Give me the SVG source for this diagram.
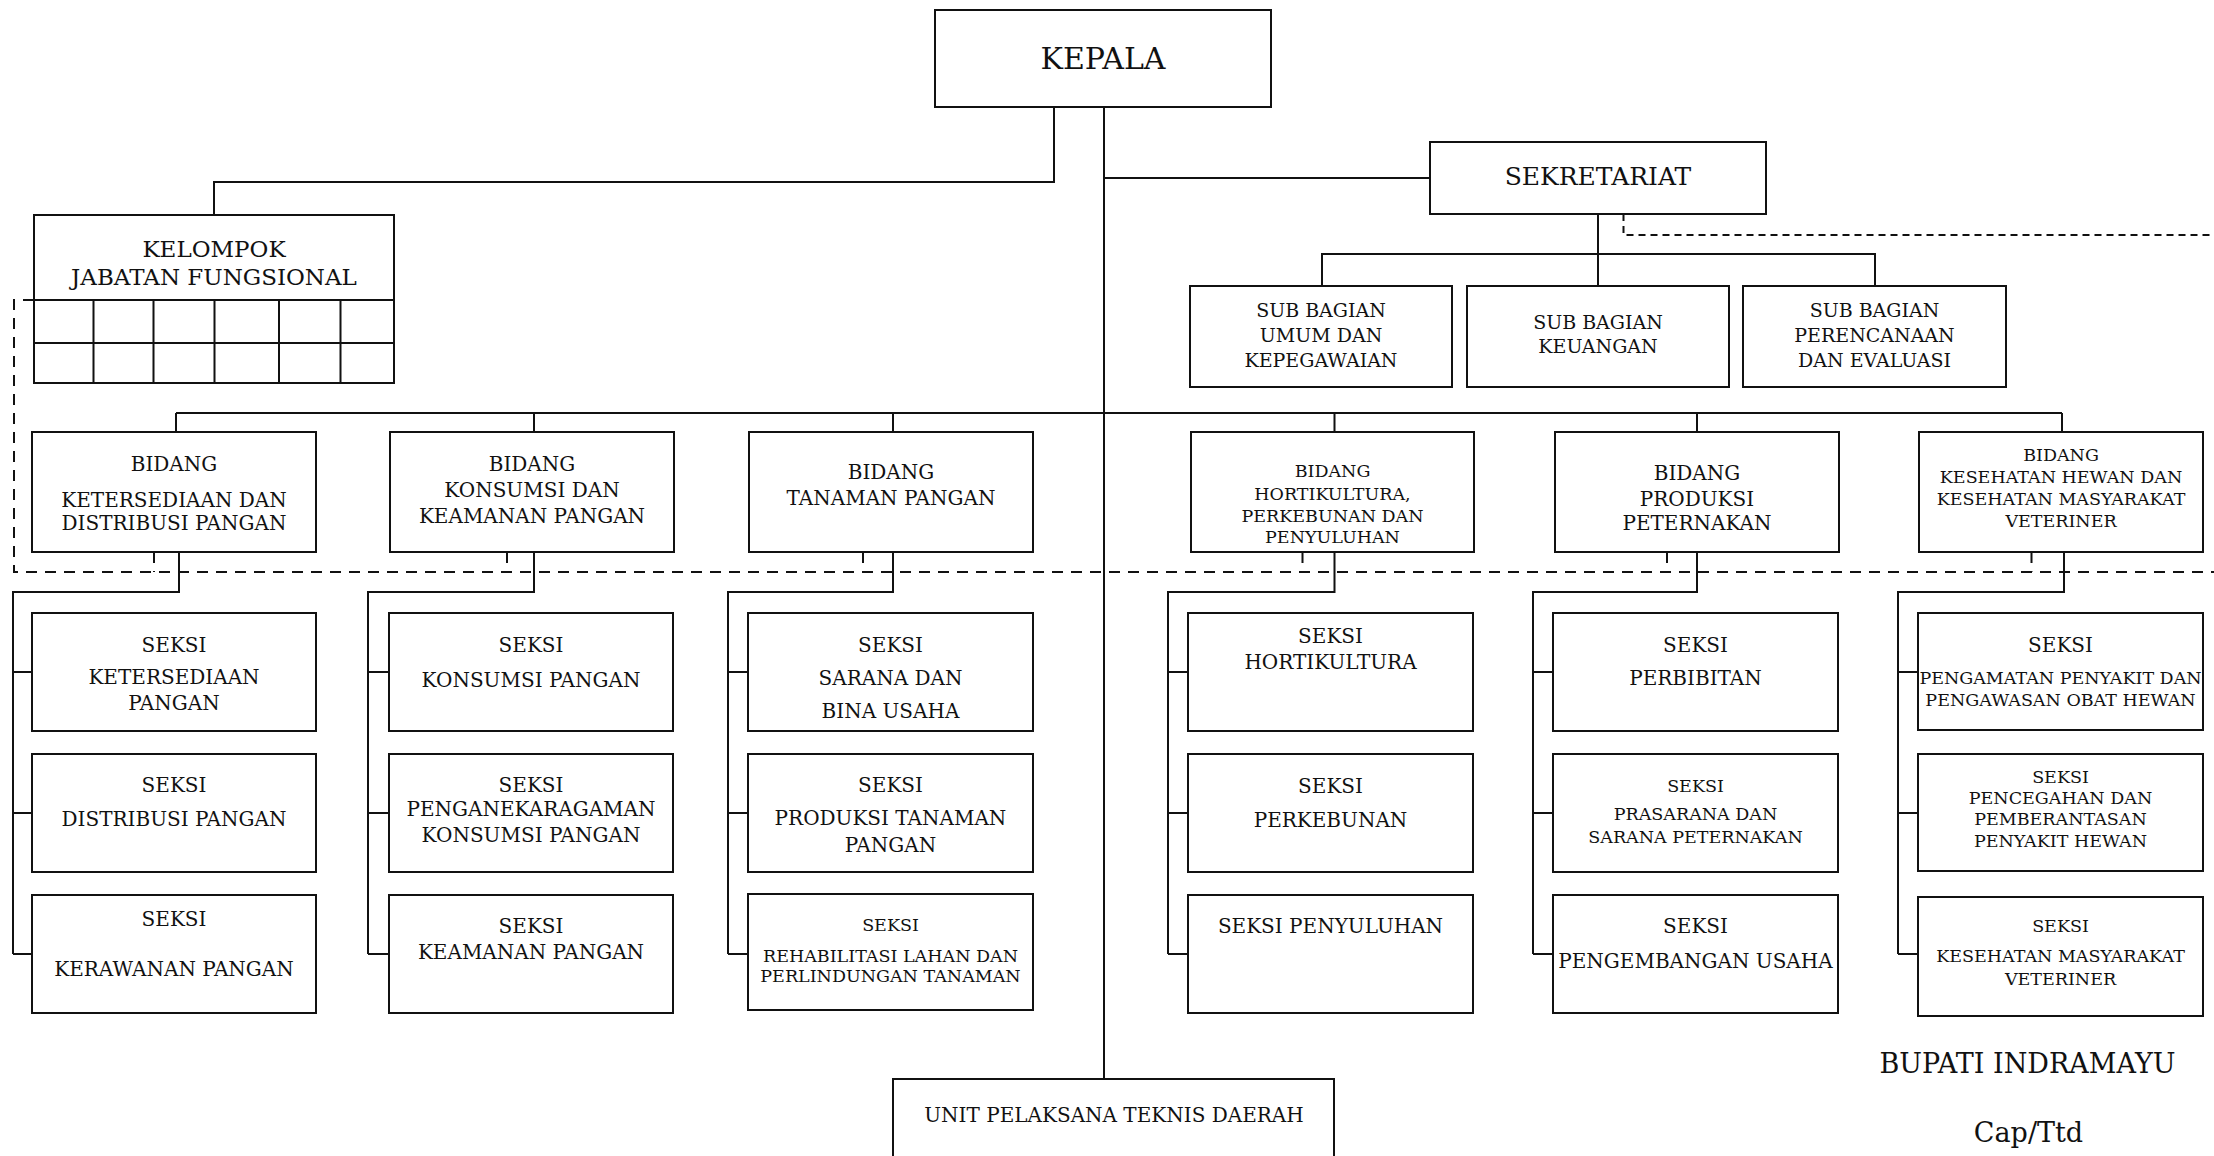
<svg xmlns="http://www.w3.org/2000/svg" width="2214" height="1156" viewBox="0 0 2214 1156">
<style>
text{font-family:"DejaVu Serif","Liberation Serif",serif;fill:#111;text-anchor:middle}
.box{fill:#fff;stroke:#111;stroke-width:2}
.ln{fill:none;stroke:#111;stroke-width:2}
.ds{fill:none;stroke:#111;stroke-width:2;stroke-dasharray:11 8}
.ds2{fill:none;stroke:#111;stroke-width:2;stroke-dasharray:7 5}
.t20{font-size:20px}
.t17{font-size:17.5px}
.t19{font-size:19px}
</style>
<rect width="2214" height="1156" fill="#fff"/>
<g id="connectors">
<path class="ln" d="M1054 107V182H214V215"/>
<path class="ln" d="M1104 107V1079"/>
<path class="ln" d="M1104 178H1430"/>
<path class="ln" d="M1598 214V286M1322 286V254H1875V286"/>
<path class="ln" d="M176 413H2062M176 413V432M534 413V432M893 413V432M1334.5 413V432M1697 413V432M2062 413V432"/>
<path class="ln" d="M179 552V592H13V954M13 672H32M13 813H32M13 954H32"/>
<path class="ln" d="M534 552V592H368V954M368 672H389M368 813H389M368 954H389"/>
<path class="ln" d="M893 552V592H728V954M728 672H748M728 813H748M728 954H748"/>
<path class="ln" d="M1334.5 552V592H1168V954M1168 672H1188M1168 813H1188M1168 954H1188"/>
<path class="ln" d="M1697 552V592H1533V954M1533 672H1553M1533 813H1553M1533 954H1553"/>
<path class="ln" d="M2064 552V592H1898V954M1898 672H1918M1898 813H1918M1898 954H1918"/>
<path class="ds" d="M34 300H14V572H2214"/>
<path class="ds" d="M154 552V572M507 552V572M863 552V572M1302.5 552V572M1667 552V572M2031.5 552V572"/>
<path class="ds2" d="M1623.5 214V235H2214"/>
</g>
<g id="kepala"><rect class="box" x="935" y="10" width="336" height="97"/><text x="1103" y="69" style="font-size:30px">KEPALA</text></g>
<g id="sekretariat"><rect class="box" x="1430" y="142" width="336" height="72"/><text x="1598" y="185" style="font-size:25px">SEKRETARIAT</text></g>
<g id="kjf"><rect class="box" x="34" y="215" width="360" height="168"/>
<path class="ln" d="M34 300H394M34 343H394M93.5 300V383M153.5 300V383M214.5 300V383M279 300V383M340.5 300V383"/>
<text x="214" y="257" style="font-size:23px">KELOMPOK</text><text x="214" y="285" style="font-size:23px">JABATAN FUNGSIONAL</text></g>
<g id="subbag-umum"><rect class="box" x="1190" y="286" width="262" height="101"/><text class="t19" x="1321" y="317">SUB BAGIAN</text><text class="t19" x="1321" y="342">UMUM DAN</text><text class="t19" x="1321" y="367">KEPEGAWAIAN</text></g>
<g id="subbag-keuangan"><rect class="box" x="1467" y="286" width="262" height="101"/><text class="t19" x="1598" y="329">SUB BAGIAN</text><text class="t19" x="1598" y="353">KEUANGAN</text></g>
<g id="subbag-perencanaan"><rect class="box" x="1743" y="286" width="263" height="101"/><text class="t19" x="1874.5" y="317">SUB BAGIAN</text><text class="t19" x="1874.5" y="342">PERENCANAAN</text><text class="t19" x="1874.5" y="367">DAN EVALUASI</text></g>

<g id="bidang-1"><rect class="box" x="32" y="432" width="284" height="120"/><text class="t20" x="174" y="471">BIDANG</text><text class="t20" x="174" y="507">KETERSEDIAAN DAN</text><text class="t20" x="174" y="530">DISTRIBUSI PANGAN</text></g>
<g id="bidang-2"><rect class="box" x="390" y="432" width="284" height="120"/><text class="t20" x="532" y="471">BIDANG</text><text class="t20" x="532" y="497">KONSUMSI DAN</text><text class="t20" x="532" y="523">KEAMANAN PANGAN</text></g>
<g id="bidang-3"><rect class="box" x="749" y="432" width="284" height="120"/><text class="t20" x="891" y="479">BIDANG</text><text class="t20" x="891" y="505">TANAMAN PANGAN</text></g>
<g id="bidang-4"><rect class="box" x="1191" y="432" width="283" height="120"/><text class="t17" x="1332.5" y="477">BIDANG</text><text class="t17" x="1332.5" y="500">HORTIKULTURA,</text><text class="t17" x="1332.5" y="522">PERKEBUNAN DAN</text><text class="t17" x="1332.5" y="543">PENYULUHAN</text></g>
<g id="bidang-5"><rect class="box" x="1555" y="432" width="284" height="120"/><text class="t20" x="1697" y="480">BIDANG</text><text class="t20" x="1697" y="506">PRODUKSI</text><text class="t20" x="1697" y="530">PETERNAKAN</text></g>
<g id="bidang-6"><rect class="box" x="1919" y="432" width="284" height="120"/><text class="t17" x="2061" y="461">BIDANG</text><text class="t17" x="2061" y="483">KESEHATAN HEWAN DAN</text><text class="t17" x="2061" y="505">KESEHATAN MASYARAKAT</text><text class="t17" x="2061" y="527">VETERINER</text></g>

<g id="seksi-1-1"><rect class="box" x="32" y="613" width="284" height="118"/><text class="t20" x="174" y="652">SEKSI</text><text class="t20" x="174" y="684">KETERSEDIAAN</text><text class="t20" x="174" y="710">PANGAN</text></g>
<g id="seksi-1-2"><rect class="box" x="32" y="754" width="284" height="118"/><text class="t20" x="174" y="792">SEKSI</text><text class="t20" x="174" y="826">DISTRIBUSI PANGAN</text></g>
<g id="seksi-1-3"><rect class="box" x="32" y="895" width="284" height="118"/><text class="t20" x="174" y="926">SEKSI</text><text class="t20" x="174" y="976">KERAWANAN PANGAN</text></g>

<g id="seksi-2-1"><rect class="box" x="389" y="613" width="284" height="118"/><text class="t20" x="531" y="652">SEKSI</text><text class="t20" x="531" y="687">KONSUMSI PANGAN</text></g>
<g id="seksi-2-2"><rect class="box" x="389" y="754" width="284" height="118"/><text class="t20" x="531" y="792">SEKSI</text><text class="t20" x="531" y="816">PENGANEKARAGAMAN</text><text class="t20" x="531" y="842">KONSUMSI PANGAN</text></g>
<g id="seksi-2-3"><rect class="box" x="389" y="895" width="284" height="118"/><text class="t20" x="531" y="933">SEKSI</text><text class="t20" x="531" y="959">KEAMANAN PANGAN</text></g>

<g id="seksi-3-1"><rect class="box" x="748" y="613" width="285" height="118"/><text class="t20" x="890.5" y="652">SEKSI</text><text class="t20" x="890.5" y="685">SARANA DAN</text><text class="t20" x="890.5" y="718">BINA USAHA</text></g>
<g id="seksi-3-2"><rect class="box" x="748" y="754" width="285" height="118"/><text class="t20" x="890.5" y="792">SEKSI</text><text class="t20" x="890.5" y="825">PRODUKSI TANAMAN</text><text class="t20" x="890.5" y="852">PANGAN</text></g>
<g id="seksi-3-3"><rect class="box" x="748" y="894" width="285" height="116"/><text class="t17" x="890.5" y="931">SEKSI</text><text class="t17" x="890.5" y="962">REHABILITASI LAHAN DAN</text><text class="t17" x="890.5" y="982">PERLINDUNGAN TANAMAN</text></g>

<g id="seksi-4-1"><rect class="box" x="1188" y="613" width="285" height="118"/><text class="t20" x="1330.5" y="643">SEKSI</text><text class="t20" x="1330.5" y="669">HORTIKULTURA</text></g>
<g id="seksi-4-2"><rect class="box" x="1188" y="754" width="285" height="118"/><text class="t20" x="1330.5" y="793">SEKSI</text><text class="t20" x="1330.5" y="827">PERKEBUNAN</text></g>
<g id="seksi-4-3"><rect class="box" x="1188" y="895" width="285" height="118"/><text class="t20" x="1330.5" y="933">SEKSI PENYULUHAN</text></g>

<g id="seksi-5-1"><rect class="box" x="1553" y="613" width="285" height="118"/><text class="t20" x="1695.5" y="652">SEKSI</text><text class="t20" x="1695.5" y="685">PERBIBITAN</text></g>
<g id="seksi-5-2"><rect class="box" x="1553" y="754" width="285" height="118"/><text class="t17" x="1695.5" y="792">SEKSI</text><text class="t17" x="1695.5" y="820">PRASARANA DAN</text><text class="t17" x="1695.5" y="843">SARANA PETERNAKAN</text></g>
<g id="seksi-5-3"><rect class="box" x="1553" y="895" width="285" height="118"/><text class="t20" x="1695.5" y="933">SEKSI</text><text class="t20" x="1695.5" y="968">PENGEMBANGAN USAHA</text></g>

<g id="seksi-6-1"><rect class="box" x="1918" y="613" width="285" height="117"/><text class="t20" x="2060.5" y="652">SEKSI</text><text class="t17" x="2060.5" y="684">PENGAMATAN PENYAKIT DAN</text><text class="t17" x="2060.5" y="706">PENGAWASAN OBAT HEWAN</text></g>
<g id="seksi-6-2"><rect class="box" x="1918" y="754" width="285" height="117"/><text class="t17" x="2060.5" y="783">SEKSI</text><text class="t17" x="2060.5" y="804">PENCEGAHAN DAN</text><text class="t17" x="2060.5" y="825">PEMBERANTASAN</text><text class="t17" x="2060.5" y="847">PENYAKIT HEWAN</text></g>
<g id="seksi-6-3"><rect class="box" x="1918" y="897" width="285" height="119"/><text class="t17" x="2060.5" y="932">SEKSI</text><text class="t17" x="2060.5" y="962">KESEHATAN MASYARAKAT</text><text class="t17" x="2060.5" y="985">VETERINER</text></g>

<g id="uptd"><rect class="box" x="893" y="1079" width="441" height="100"/><text class="t20" x="1114" y="1122">UNIT PELAKSANA TEKNIS DAERAH</text></g>
<g id="signature"><text x="2027.5" y="1073" style="font-size:27px">BUPATI INDRAMAYU</text><text x="2028.5" y="1142" style="font-size:27px">Cap/Ttd</text></g>
</svg>
